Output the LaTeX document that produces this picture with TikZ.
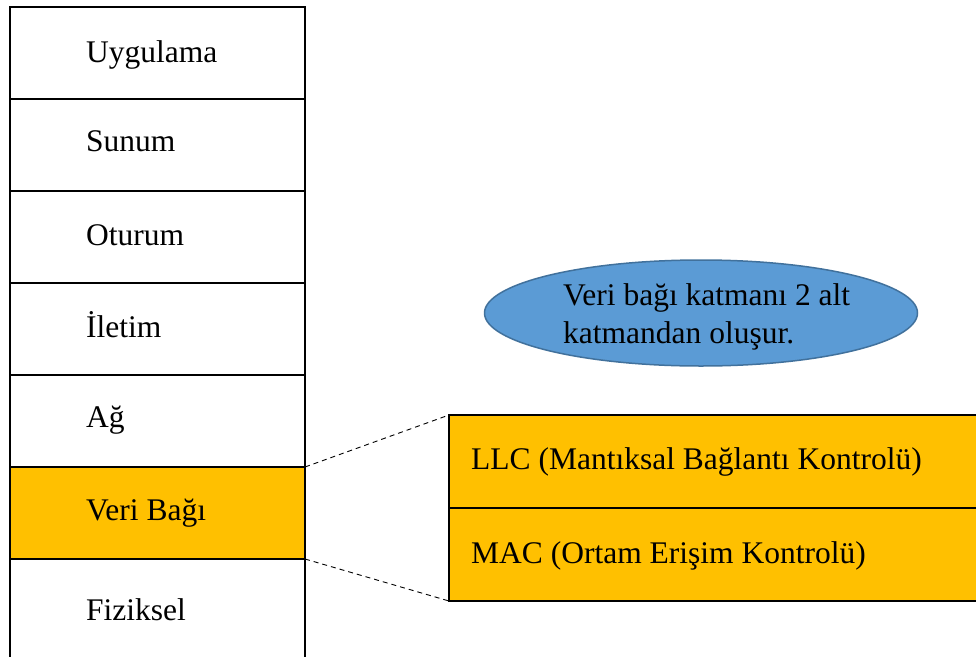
\documentclass[tikz,border=0pt]{standalone}
\usepackage{fontspec}
\setmainfont{Liberation Serif}
\usetikzlibrary{shapes.geometric}
\definecolor{gold}{HTML}{FFC000}
\definecolor{bubblefill}{HTML}{5B9BD5}
\definecolor{bubbleedge}{HTML}{41719C}
\begin{document}
\begin{tikzpicture}[x=1pt,y=-1pt,
  layerbox/.style={draw=black, line width=2.6pt, fill=white, anchor=north west,
    minimum width=295pt, minimum height=92pt, inner sep=0pt, outer sep=0pt},
  activebox/.style={layerbox, fill=gold},
  subbox/.style={draw=black, line width=2.6pt, fill=gold, anchor=north west,
    minimum width=560pt, minimum height=93pt, inner sep=0pt, outer sep=0pt},
  lbl/.style={anchor=base west, inner sep=0pt, font=\fontsize{31.5}{38}\selectfont},
  bubble/.style={ellipse, fill=bubblefill, draw=bubbleedge, line width=1.5pt,
    minimum width=433pt, minimum height=106pt, inner sep=0pt},
  zoomline/.style={draw=black, line width=0.9pt, dash pattern=on 5pt off 4pt}
]
\useasboundingbox (0,0) rectangle (976,656);
\clip (0,0) rectangle (976,656);

% OSI layer stack
\node[layerbox]  (app)  at (10,7)   {};
\node[layerbox]  (pres) at (10,99)  {};
\node[layerbox]  (sess) at (10,191) {};
\node[layerbox]  (trans) at (10,283) {};
\node[layerbox]  (net)  at (10,375) {};
\node[layerbox, minimum height=110pt] (phys) at (10,559) {};
\node[activebox] (dl)   at (10,467) {};

\node[lbl] (appt)   at (86,62)  {Uygulama};
\node[lbl] (prest)  at (86,151) {Sunum};
\node[lbl] (sesst)  at (86,245) {Oturum};
\node[lbl] (transt) at (86,337) {İletim};
\node[lbl] (nett)   at (86,427) {Ağ};
\node[lbl] (dlt)    at (86,520) {Veri Bağı};
\node[lbl] (physt)  at (86,620) {Fiziksel};

% Data link sublayers
\node[subbox] (llc) at (449,415) {};
\node[subbox] (mac) at (449,508) {};
\node[lbl] (llct) at (471,469) {LLC (Mantıksal Bağlantı Kontrolü)};
\node[lbl] (mact) at (471,563) {MAC (Ortam Erişim Kontrolü)};

% Zoom lines from the data link layer to its sublayers
\draw[zoomline] (dl.north east) -- (llc.north west);
\draw[zoomline] (dl.south east) -- (mac.south west);

% Callout
\node[bubble] (note) at (701,313) {};
\node[lbl] (note1) at (563,305) {Veri bağı katmanı 2 alt};
\node[lbl] (note2) at (563,343) {katmandan oluşur.};
\end{tikzpicture}
\end{document}
